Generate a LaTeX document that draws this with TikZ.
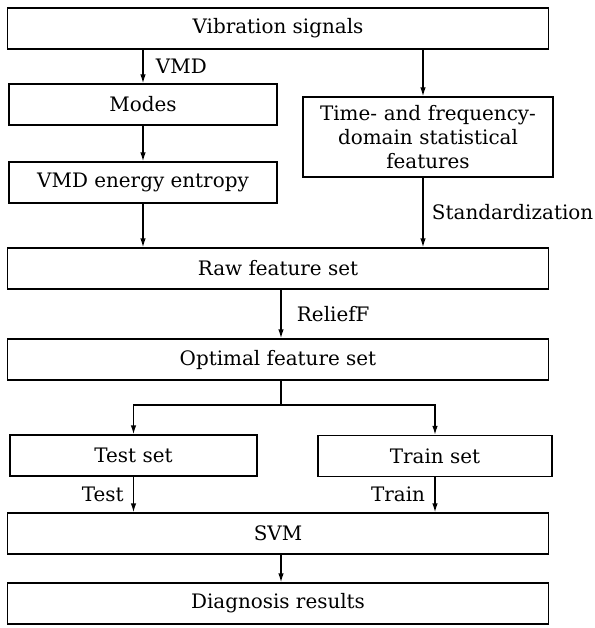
\documentclass[tikz,border=0pt]{standalone}
\usepackage{fontspec}
\setmainfont{DejaVu Serif}
\usepackage{tikz}
\usetikzlibrary{arrows.meta}

\begin{document}
\begin{tikzpicture}[x=1bp, y=-1bp, line width=1.3bp,
  font=\fontsize{20}{24}\selectfont,
  box/.style={draw, minimum height=41bp, inner sep=2bp, align=center},
  arr/.style={-{Latex[length=9bp,width=5.5bp]}}]

\useasboundingbox (0,0) rectangle (595,628);

%Feature extraction
\node[box, minimum width=541bp] (vib) at (278,28.5) {Vibration signals};
\node[box, minimum width=268bp] (modes) at (143,104.5) {Modes};
\node[box, minimum width=268bp] (ent) at (143,182.5) {VMD energy entropy};
\node[box, minimum height=80bp, text width=246bp] (tfd) at (428,137) {Time- and frequency-\\domain statistical\\features};

%Feature selection
\node[box, minimum width=541bp] (raw) at (278,268.5) {Raw feature set};
\node[box, minimum width=541bp] (opt) at (278,359.5) {Optimal feature set};

%Classification
\node[box, minimum width=247bp] (test) at (133.5,455.5) {Test set};
\node[box, minimum width=234bp] (train) at (435,456) {Train set};
\node[box, minimum width=541bp] (svm) at (278,533.5) {SVM};
\node[box, minimum width=541bp] (diag) at (278,603.5) {Diagnosis results};

% Arrow columns
\coordinate (mid) at (281,0);
\coordinate (tcol) at (423,0);
\coordinate (split) at (281,405);

\draw[arr] (vib.south -| modes) -- node[right, xshift=9bp] {VMD} (modes);
\draw[arr] (modes) -- (ent);
\draw[arr] (ent) -- (ent.south |- raw.north);
\draw[arr] (vib.south -| tcol) -- (tfd.north -| tcol);
\draw[arr] (tfd.south -| tcol) -- node[right, xshift=5bp] {Standardization} (raw.north -| tcol);
\draw[arr] (raw.south -| mid) -- node[right, xshift=12bp] {ReliefF} (opt.north -| mid);
\draw (opt.south -| mid) -- (split);
\draw[arr] (split) -| (test);
\draw[arr] (split) -| (train);
\draw[arr] (test) -- node[left, xshift=-6bp] {Test} (test |- svm.north);
\draw[arr] (train) -- node[left, xshift=-6bp] {Train} (train |- svm.north);
\draw[arr] (svm.south -| mid) -- (diag.north -| mid);

\end{tikzpicture}
\end{document}
